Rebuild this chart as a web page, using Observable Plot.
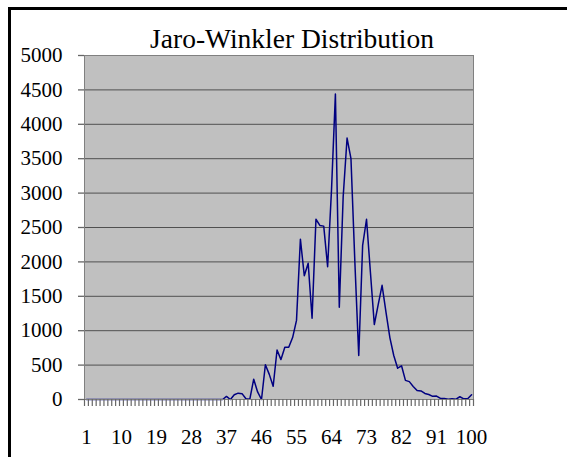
<!DOCTYPE html>
<html>
<head>
<meta charset="utf-8">
<script src="https://cdn.jsdelivr.net/npm/d3@7"></script>
<script src="https://cdn.jsdelivr.net/npm/@observablehq/plot@0.6"></script>
<style>
  html, body { margin: 0; padding: 0; background: #fff; }
  #chart { position: relative; width: 567px; height: 457px; overflow: hidden; background: #fff; }
  #border { position: absolute; left: 8px; top: 7px; width: 640px; height: 520px; border: 3px solid #000; box-sizing: border-box; }
  #title { position: absolute; left: 0; top: 25px; width: 584px; text-align: center;
           font-family: "Liberation Serif", "Times New Roman", serif; font-size: 27.5px; line-height: 27px; color: #000; }
  #plot { position: absolute; left: 0; top: 0; }
  #plot svg, #plot svg text { font-family: "Liberation Serif", "Times New Roman", serif !important; }
</style>
</head>
<body>
<div id="chart">
  <div id="border"></div>
  <div id="plot"></div>
  <div id="title">Jaro-Winkler Distribution</div>
</div>
<script>
// Similarity buckets 1..100 and the number of name pairs falling in each
const buckets = d3.range(1, 101);
const counts = [
  0, 0, 0, 0, 0, 0, 0, 0, 0, 0,
  0, 0, 0, 0, 0, 0, 0, 0, 0, 0,
  0, 0, 0, 0, 0, 0, 0, 0, 0, 0,
  0, 0, 0, 0, 0, 0, 45, 0, 70, 92,
  85, 10, 5, 295, 110, 0, 505, 365, 192, 720,
  580, 760, 760, 900, 1150, 2330, 1800, 1980, 1180, 2620,
  2530, 2520, 1930, 3050, 4440, 1340, 2950, 3800, 3500, 2000,
  640, 2240, 2620, 1850, 1090, 1380, 1660, 1270, 900, 640,
  455, 490, 278, 260, 190, 132, 125, 88, 72, 46,
  50, 15, 15, 5, 10, 5, 40, 10, 10, 68
];
const xTickLabels = [1, 10, 19, 28, 37, 46, 55, 64, 73, 82, 91, 100];
const yTicks = [0, 500, 1000, 1500, 2000, 2500, 3000, 3500, 4000, 4500, 5000];

const data = buckets.map((b, i) => ({bucket: b, count: counts[i]}));
// category boundaries for the small tick marks under the axis
const boundaries = d3.range(0, 101).map(d => d + 0.5);
const serif = "Liberation Serif, Times New Roman, serif";

const chart = Plot.plot({
  width: 567,
  height: 457,
  marginLeft: 84,
  marginRight: 94,
  marginTop: 55,
  marginBottom: 58,
  style: {fontFamily: serif, fontSize: "21px", color: "#000", background: "transparent"},
  x: {domain: [0.5, 100.5]},
  y: {domain: [0, 5000]},
  marks: [
    Plot.frame({fill: "#c0c0c0", stroke: null}),
    Plot.gridY(yTicks, {stroke: "#505050", strokeOpacity: 1, strokeWidth: 1}),
    Plot.line(data, {x: "bucket", y: "count", stroke: "#000080", strokeWidth: 1.5}),
    Plot.frame({stroke: "#808080", strokeWidth: 1}),
    Plot.axisY({ticks: yTicks, tickSize: 6, tickPadding: 16, stroke: "#666", strokeWidth: 1.3,
                tickFormat: d3.format("d"), label: null, fontSize: 21, fontFamily: serif}),
    Plot.axisX({ticks: boundaries, tickSize: 7, tickPadding: 0, stroke: "#666", strokeWidth: 1.2,
                tickFormat: () => "", label: null}),
    Plot.axisX({ticks: xTickLabels, tickSize: 0, tickPadding: 30, tickFormat: d3.format("d"), label: null,
                fontSize: 21, fontFamily: serif})
  ]
});
document.getElementById("plot").appendChild(chart);
</script>
</body>
</html>
